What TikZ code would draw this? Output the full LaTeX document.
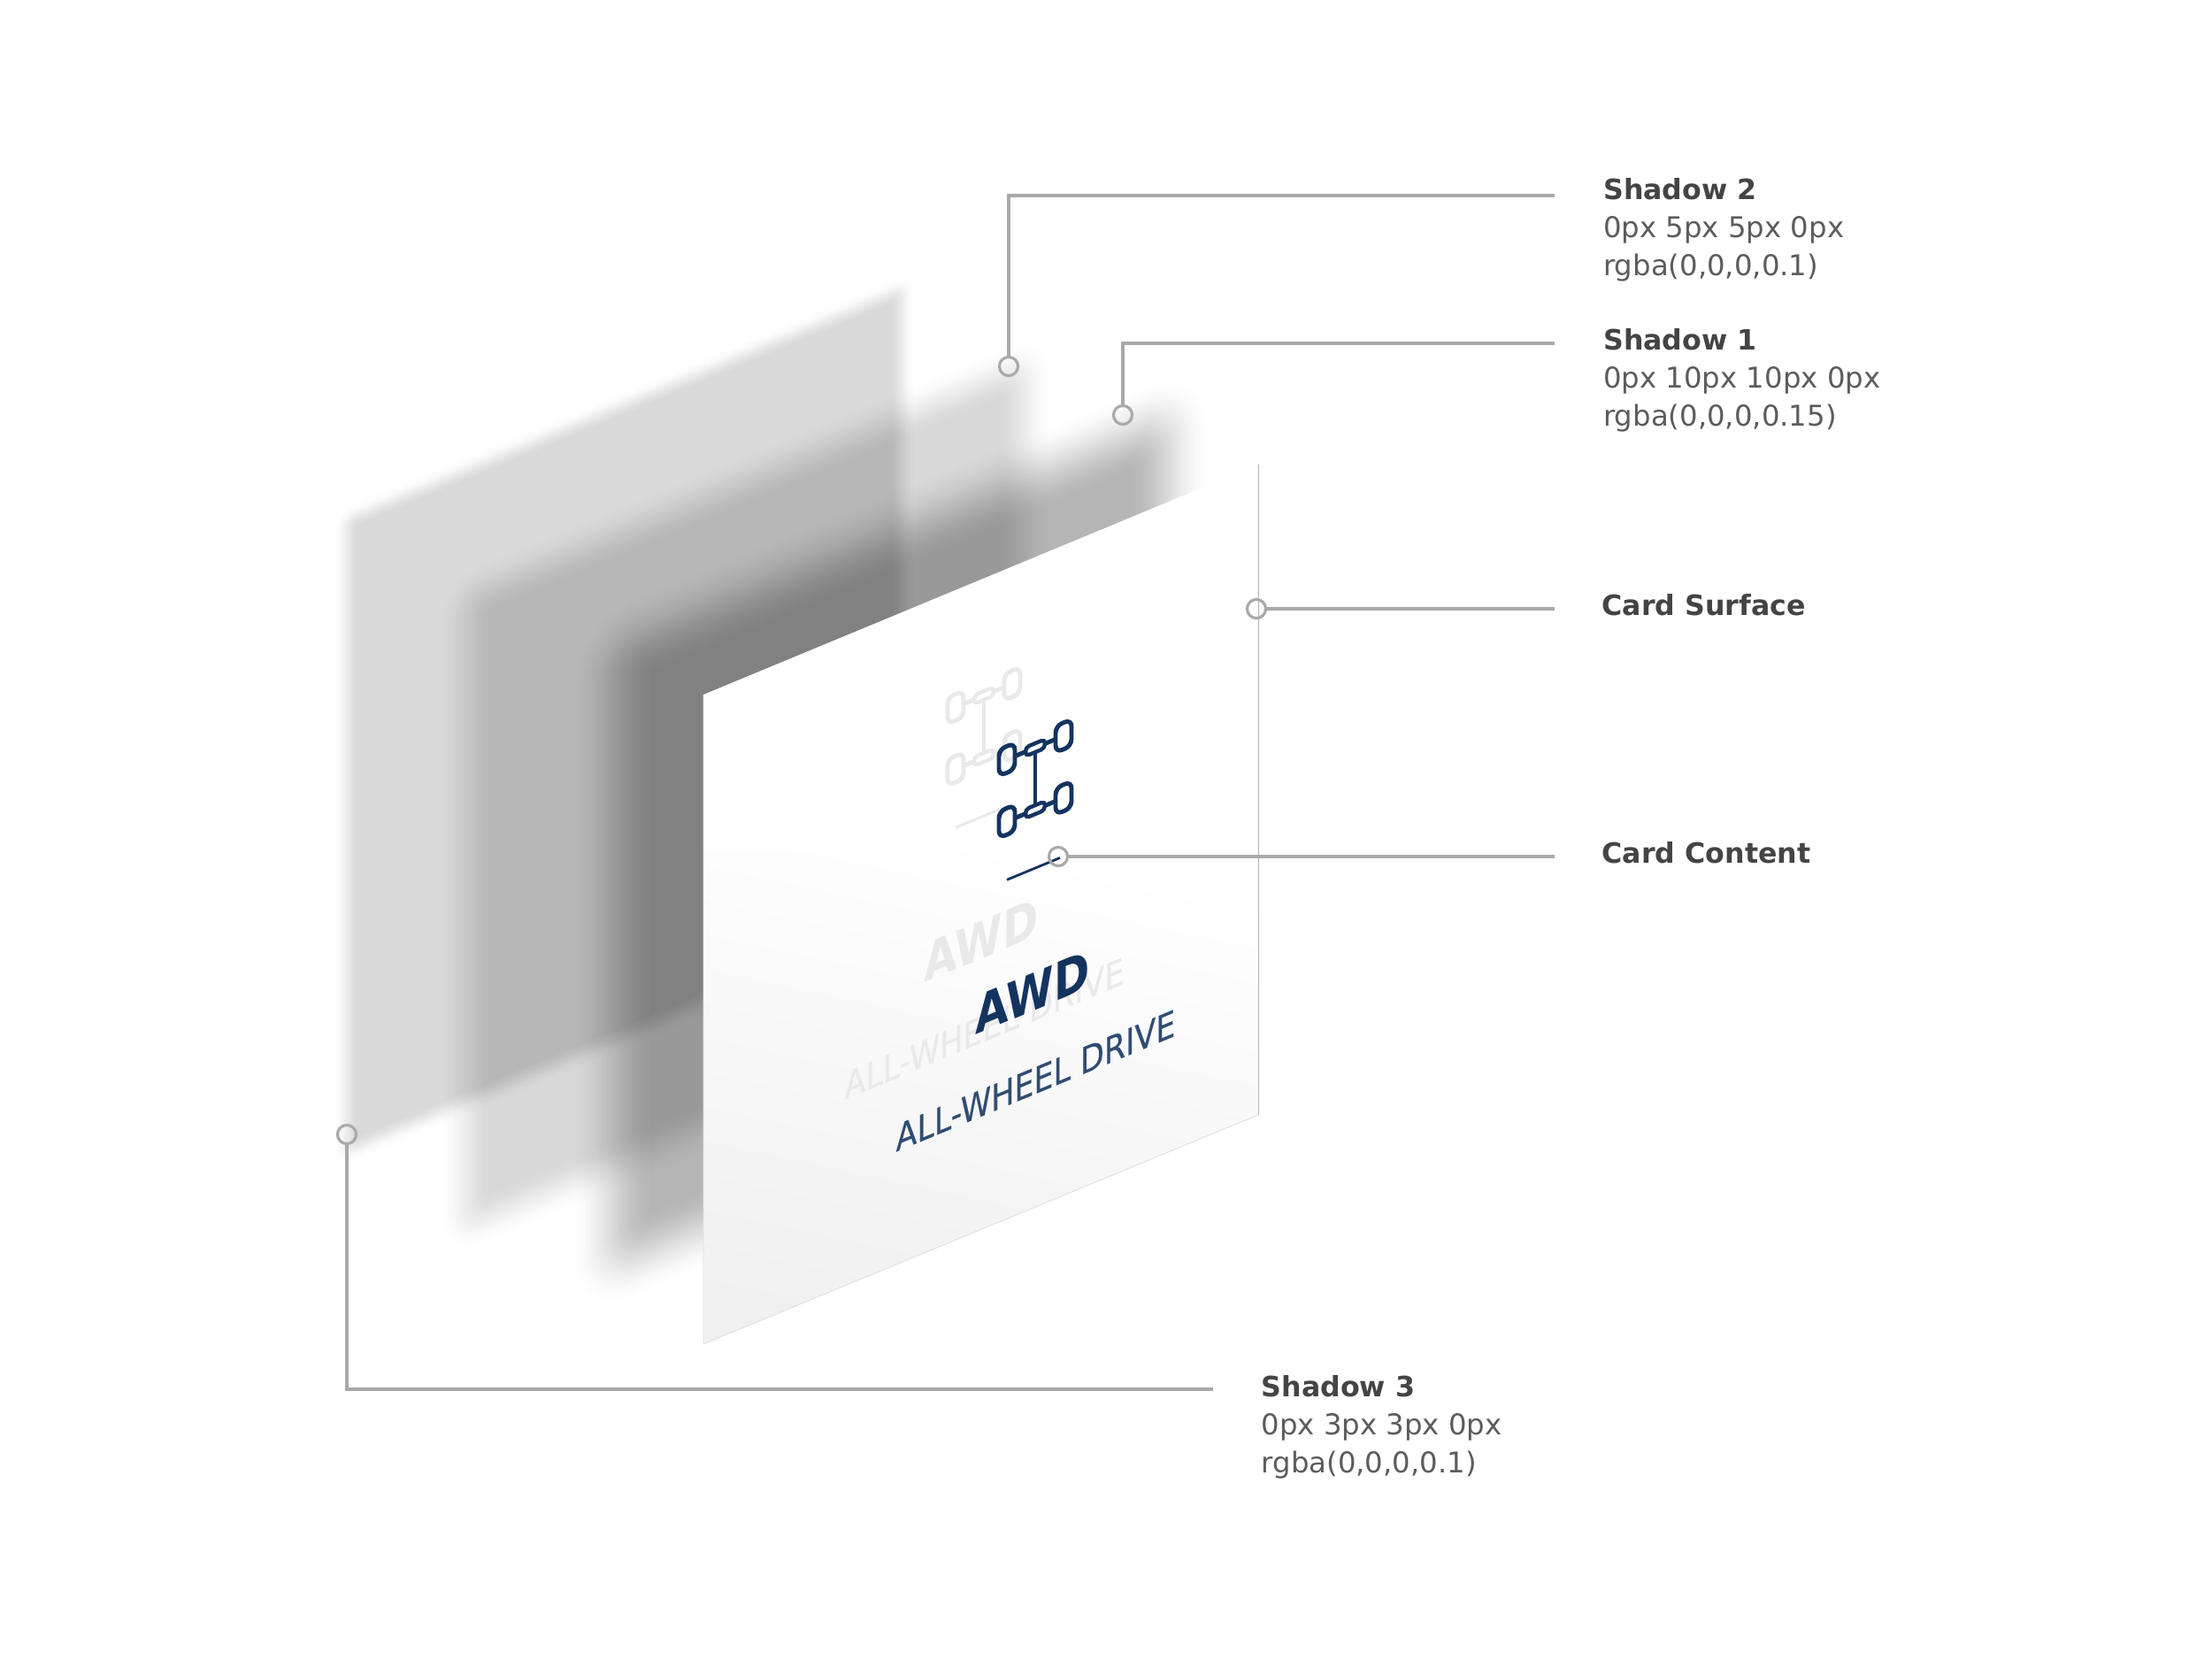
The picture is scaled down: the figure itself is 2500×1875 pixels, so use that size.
\documentclass[tikz,border=0pt]{standalone}
\usepackage{fontspec}
\setmainfont{DejaVu Sans}
\newfontfamily\medf[FakeBold=0.35]{DejaVu Sans}
\definecolor{navy}{HTML}{14345F}
\definecolor{leadc}{HTML}{A9A9A9}
\definecolor{headc}{HTML}{444444}
\definecolor{bodyc}{HTML}{5C5C5C}
\definecolor{ghostc}{HTML}{E9E9E9}
\newcommand{\softlayer}[7]{% x0, ytop, w, h, alpha, blur, steps
  \pgfmathsetmacro{\lty}{#2+0.415*#1}
  \begin{scope}[blend mode=multiply]
  \begin{scope}[transparency group]
  \foreach \k in {1,...,#7}{
    \pgfmathsetmacro{\uu}{(\k-0.5)/#7}
    \pgfmathsetmacro{\ee}{#6*(1-2*\uu)}
    \pgfmathsetmacro{\vv}{1-#5*\uu*\uu*(3-2*\uu)}
    \pgfmathsetmacro{\rr}{(\ee+#6)*0.2845*0.8}
    \fill[blend mode=normal,fill={rgb,1:red,\vv;green,\vv;blue,\vv},cm={1,0.415,0,1,(0,0)},rounded corners=\rr pt]
      ({#1-\ee},{\lty-\ee}) rectangle ({#1+#3+\ee},{\lty+#4+\ee});
  }
  \end{scope}
  \end{scope}
}
\newcommand{\axleicon}[3]{% centre x, centre y, colour
  \begin{scope}[cm={1,0.415,0,1,(#1,#2)},draw=#3,line width=1.4pt]
    \foreach \wx/\wy in {-32/-35,32/-35,-32/35,32/35}
      \draw[rounded corners=2.2pt] ({\wx-9},{\wy-15}) rectangle ({\wx+9},{\wy+15});
    \foreach \wy in {-35,35}{
      \draw[rounded corners=1.3pt,line width=1.25pt] (-11,{\wy-5}) rectangle (11,{\wy+5});
      \draw (-23,\wy) -- (-11,\wy);
      \draw (11,\wy) -- (23,\wy);
    }
    \draw (0,-30) -- (0,30);
    \draw[line width=0.8pt] (-32,101) -- (28,101);
  \end{scope}
}
\tikzset{
  leader/.style={draw=leadc,line width=1pt},
  dotc/.style={circle,draw=leadc,line width=0.9pt,minimum size=6pt,inner sep=0pt},
  labelblock/.style={anchor=north west,inner sep=0pt,align=left,text=bodyc,
    font=\fontsize{9.2}{12.25}\selectfont},
  tilted/.style={transform shape,anchor=base west,inner sep=0pt},
}
\newcommand{\hd}[1]{{\fontsize{9}{12.25}\selectfont\bfseries\color{headc}#1}}
\begin{document}
\begin{tikzpicture}[x=0.01cm,y=-0.01cm]
\useasboundingbox[fill=white] (0,0) rectangle (2500,1875);
% shadow layers
\softlayer{391}{587}{629}{715}{0.15}{15}{20}
\softlayer{526}{674}{632}{712}{0.155}{32}{28}
\softlayer{691}{732}{630}{700}{0.29}{48}{40}
% card surface
\begin{scope}
  \clip (795,785) -- (1422,525) -- (1422,1260) -- (795,1519) -- cycle;
  \fill[white] (780,500) rectangle (1440,1530);
  \shade[top color=white,bottom color=black!6,shading angle=-12] (780,960) rectangle (1440,1530);
\end{scope}
\draw[black!30,line width=0.25pt] (1422,525) -- (1422,1260);
\draw[black!12,line width=0.25pt] (795,785) -- (795,1519) -- (1422,1260);
% ghost content
\axleicon{1112}{821}{ghostc}
\node[tilted,text=ghostc,font=\bfseries\fontsize{16.8}{16}\selectfont,cm={0.82,0.34,0,1,(1044,1111)}] (awdghost) at (0,0) {AWD};
\node[tilted,text=ghostc,font=\medf\fontsize{11.8}{13}\selectfont,cm={0.84,0.349,0,1,(954,1243)}] (driveghost) at (0,0) {ALL-WHEEL DRIVE};
% main content
\axleicon{1170}{880}{navy}
\node[tilted,text=navy,font=\bfseries\fontsize{16.8}{16}\selectfont,cm={0.82,0.34,0,1,(1102,1170)}] (awd) at (0,0) {AWD};
\node[tilted,text=navy!88!white,font=\medf\fontsize{11.8}{13}\selectfont,cm={0.84,0.349,0,1,(1012,1302)}] (drive) at (0,0) {ALL-WHEEL DRIVE};
% labels
\node[labelblock] (l2) at (1811.5,200.5) {\hd{Shadow 2}\\0px 5px 5px 0px\\rgba(0,0,0,0.1)};
\node[labelblock] (l1) at (1811.5,370.5) {\hd{Shadow 1}\\0px 10px 10px 0px\\rgba(0,0,0,0.15)};
\node[labelblock] (ls) at (1810,670.5) {\hd{Card Surface}};
\node[labelblock] (lc) at (1810,950.5) {\hd{Card Content}};
\node[labelblock] (l3) at (1425,1553.5) {\hd{Shadow 3}\\0px 3px 3px 0px\\rgba(0,0,0,0.1)};
% leaders
\node[dotc] (d2) at (1140,414) {};
\node[dotc] (d1) at (1269,469) {};
\node[dotc] (ds) at (1420,688) {};
\node[dotc] (dc) at (1196,968) {};
\node[dotc] (d3) at (392,1282) {};
\coordinate (e2) at (1757,221);
\coordinate (e1) at (1757,388);
\coordinate (es) at (1757,688);
\coordinate (ec) at (1757,968);
\coordinate (e3) at (1371,1570);
\draw[leader] (d2.north) |- (e2);
\draw[leader] (d1.north) |- (e1);
\draw[leader] (ds.east) -- (es);
\draw[leader] (dc.east) -- (ec);
\draw[leader] (d3.south) |- (e3);
\end{tikzpicture}
\end{document}
